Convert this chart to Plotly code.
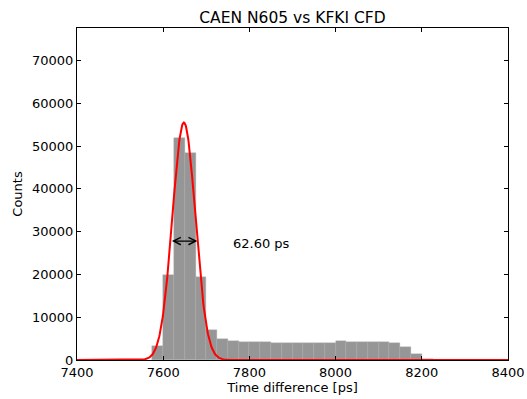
import numpy as np
import plotly.graph_objects as go

# Histogram bins (left edges, ps) and counts
bin_left = [7575, 7600, 7625, 7650, 7675, 7700, 7725, 7750, 7775, 7800,
            7825, 7850, 7875, 7900, 7925, 7950, 7975, 8000, 8025, 8050,
            8075, 8100, 8125, 8150, 8175, 8200]
counts = [3300, 19800, 52000, 48300, 19500, 7100, 5000, 4500, 4300, 4200,
          4100, 4050, 3900, 3880, 3950, 3900, 3900, 4400, 4250, 4200,
          4100, 4200, 4000, 3100, 1400, 300]
bin_width = 25

# Gaussian fit parameters
fit_amp = 55500
fit_mean = 7648
fit_fwhm = 62.60
fwhm_level = 27800
label_text = "62.60 ps"

x_ticks = [7400, 7600, 7800, 8000, 8200, 8400]
y_ticks = [0, 10000, 20000, 30000, 40000, 50000, 60000, 70000]

sigma = fit_fwhm / (2 * np.sqrt(2 * np.log(2)))
xf = np.linspace(7400, 8400, 1001)
yf = fit_amp * np.exp(-0.5 * ((xf - fit_mean) / sigma) ** 2)

font = "DejaVu Sans, Liberation Sans, sans-serif"

fig = go.Figure()
fig.add_trace(go.Bar(
    x=[b + bin_width / 2 for b in bin_left], y=counts, width=bin_width,
    marker=dict(color="#969696", line=dict(color="#a8a8a8", width=0.4)),
    showlegend=False, hoverinfo="skip"))
fig.add_trace(go.Scatter(
    x=xf, y=yf, mode="lines", line=dict(color="#ff0000", width=2),
    showlegend=False))

fig.add_annotation(
    x=fit_mean + fit_fwhm / 2, y=fwhm_level, ax=fit_mean - fit_fwhm / 2, ay=fwhm_level,
    xref="x", yref="y", axref="x", ayref="y", text="", showarrow=True,
    arrowside="end+start", arrowhead=5, startarrowhead=5, arrowsize=1.2,
    startarrowsize=1.2, arrowwidth=1.2, arrowcolor="black")
fig.add_annotation(
    x=7757, y=27300, xref="x", yref="y", text=label_text, showarrow=False,
    xanchor="left", yanchor="middle", font=dict(size=13, color="black", family=font))

axis_common = dict(
    showgrid=False, zeroline=False, showline=True, linecolor="black", linewidth=1,
    mirror="ticks", ticks="inside", ticklen=4, tickcolor="black", tickwidth=1,
    automargin=False,
    tickfont=dict(size=13, color="black", family=font))

fig.update_xaxes(range=[7400, 8400], tickvals=x_ticks, ticktext=[str(v) for v in x_ticks],
                 title=dict(text="Time difference [ps]", font=dict(size=13, color="black", family=font), standoff=4),
                 **axis_common)
fig.update_yaxes(range=[0, 77600], tickvals=y_ticks, ticktext=[str(v) for v in y_ticks],
                 title=dict(text="Counts", font=dict(size=13, color="black", family=font), standoff=6),
                 **axis_common)

fig.update_layout(
    width=527, height=399, margin=dict(l=77, r=19, t=28, b=39),
    paper_bgcolor="white", plot_bgcolor="white", bargap=0,
    title=dict(text="CAEN N605 vs KFKI CFD", x=0.555, xanchor="center",
               y=1 - 18 / 399, yanchor="middle", yref="container",
               font=dict(size=15.5, color="black", family=font)),
    font=dict(family=font, color="black"))

fig.write_html("out.html")
